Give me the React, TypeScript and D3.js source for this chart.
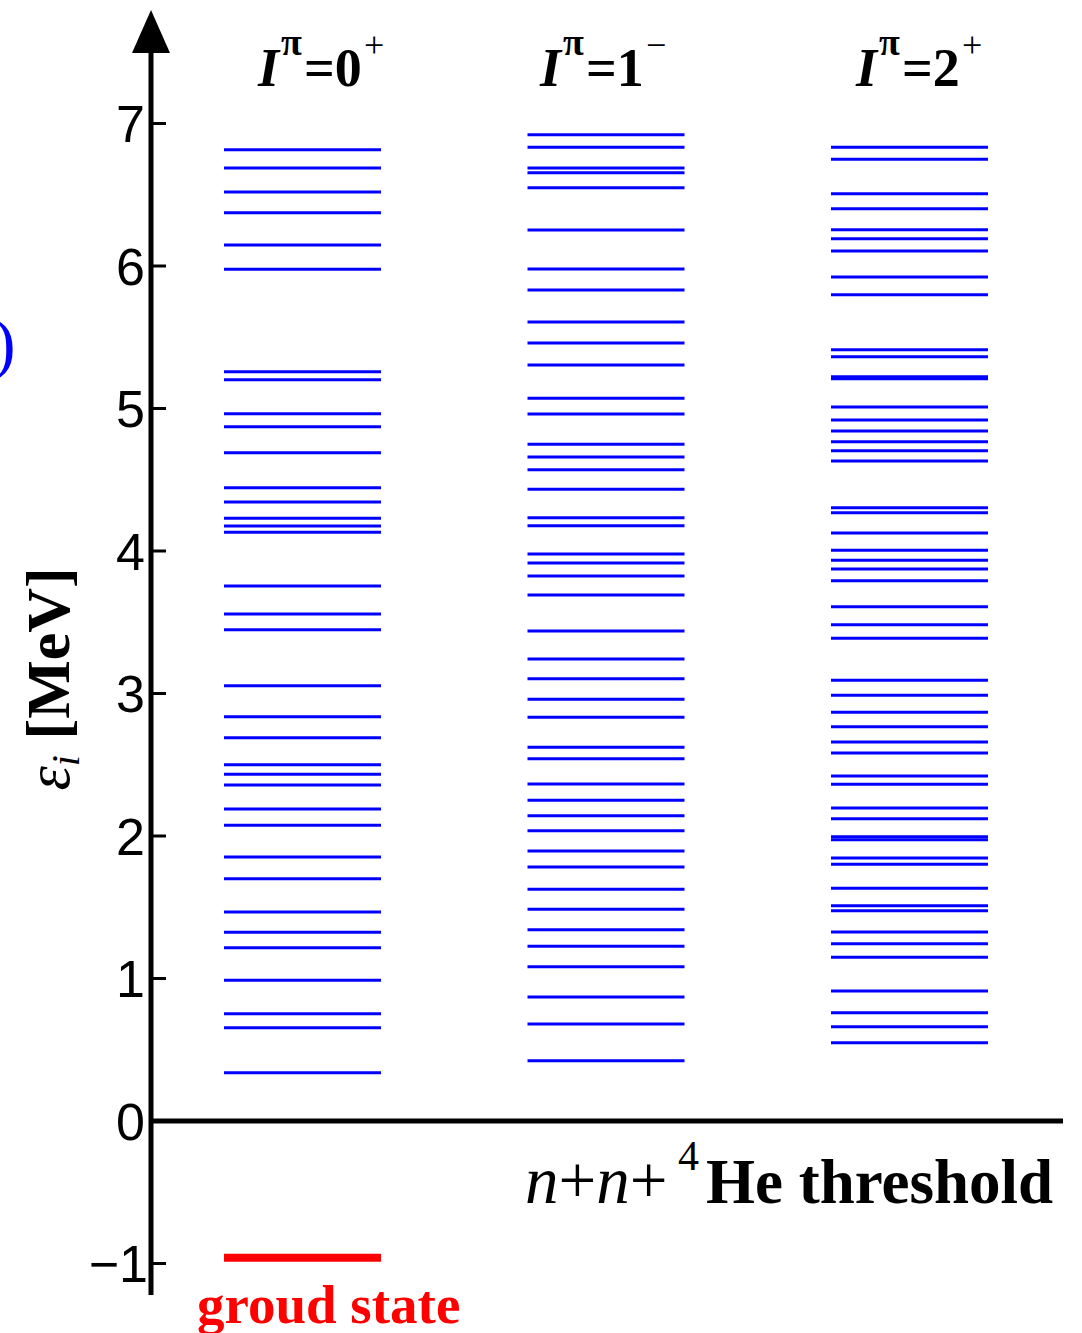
import React from "react";
import * as d3 from "d3";

// Energy levels (MeV) for each I^pi channel
const levels0p: number[] = [
  6.816, 6.688, 6.519, 6.374, 6.147, 5.977, 5.258, 5.202, 4.964, 4.872, 4.69,
  4.444, 4.344, 4.23, 4.175, 4.131, 3.754, 3.558, 3.448, 3.055, 2.837, 2.69,
  2.5, 2.433, 2.358, 2.189, 2.075, 1.853, 1.7, 1.467, 1.324, 1.216, 0.987,
  0.753, 0.655, 0.339,
];
const levels1m: number[] = [
  6.921, 6.833, 6.688, 6.655, 6.549, 6.253, 5.979, 5.832, 5.607, 5.46, 5.305,
  5.072, 4.961, 4.749, 4.66, 4.571, 4.433, 4.234, 4.178, 3.979, 3.916, 3.825,
  3.691, 3.439, 3.242, 3.104, 2.959, 2.833, 2.622, 2.542, 2.365, 2.251, 2.142,
  2.037, 1.895, 1.782, 1.626, 1.486, 1.342, 1.226, 1.083, 0.87, 0.681, 0.423,
];
const levels2p: number[] = [
  6.833, 6.749, 6.507, 6.402, 6.255, 6.192, 6.105, 5.923, 5.799, 5.413, 5.364,
  5.223, 5.209, 5.011, 4.919, 4.842, 4.767, 4.704, 4.632, 4.304, 4.269, 4.126,
  4.005, 3.935, 3.874, 3.792, 3.609, 3.483, 3.387, 3.093, 2.987, 2.868, 2.767,
  2.66, 2.582, 2.421, 2.363, 2.196, 2.121, 1.995, 1.974, 1.846, 1.801, 1.633,
  1.511, 1.476, 1.326, 1.244, 1.149, 0.912, 0.76, 0.662, 0.549,
];
const groundState = -0.96;
const channels = ["0+", "1-", "2+"];
const channelDigits = ["0", "1", "2"];
const channelSigns = ["+", "\u2212", "+"];
const yTicks = [-1, 0, 1, 2, 3, 4, 5, 6, 7];

const allLevels = [levels0p, levels1m, levels2p];

export default function App() {
  const W = 1082;
  const H = 1333;
  const axisX = 151;
  const y = d3.scaleLinear().domain([0, 7]).range([1121, 123.5]);
  const xc = d3.scalePoint<string>().domain(channels).range([302.5, 909.5]);
  const halfW = 78.5;
  const titleStart = [258, 540, 856];

  const serif = "'Liberation Serif', 'Times New Roman', serif";
  const sans = "'Liberation Sans', Arial, sans-serif";

  return (
    <svg width={W} height={H} style={{ display: "block", position: "absolute", left: 0, top: 0 }}>
      <rect width={W} height={H} fill="#fff" />
      {/* stray blue parenthesis */}
      <text x={-7} y={366} fontFamily={serif} fontSize={68} fill="#0000ff">)</text>

      {/* axes */}
      <line x1={axisX} x2={axisX} y1={48} y2={1295} stroke="#000" strokeWidth={5} />
      <polygon points={`${axisX},10 ${axisX - 19},53 ${axisX + 19},53`} fill="#000" />
      <line x1={axisX} x2={1063} y1={y(0)} y2={y(0)} stroke="#000" strokeWidth={5} />
      {yTicks.map((t) => (
        <g key={t}>
          <line x1={axisX} x2={166} y1={y(t)} y2={y(t)} stroke="#000" strokeWidth={3} />
          <text
            x={t < 0 ? 148 : 145}
            y={y(t)}
            dy="0.36em"
            textAnchor="end"
            fontFamily={sans}
            fontSize={52}
            fill="#000"
          >
            {t < 0 ? "\u2212" + Math.abs(t) : t}
          </text>
        </g>
      ))}

      {/* y label */}
      <text
        transform={`translate(69,679) rotate(-90)`}
        textAnchor="middle"
        fontFamily={serif}
        fontSize={62}
        fill="#000"
      >
        <tspan fontStyle="italic" fontWeight="normal">ε</tspan>
        <tspan fontStyle="italic" fontSize={40} dy={10}>i</tspan>
        <tspan dy={-10} fontWeight="bold"> [MeV]</tspan>
      </text>

      {/* levels */}
      {allLevels.map((lv, ci) =>
        lv.map((v, i) => (
          <line
            key={`${ci}-${i}`}
            x1={(xc(channels[ci]) as number) - halfW}
            x2={(xc(channels[ci]) as number) + halfW}
            y1={y(v)}
            y2={y(v)}
            stroke="#0000ff"
            strokeWidth={3}
          />
        ))
      )}

      {/* ground state */}
      <line
        x1={(xc(channels[0]) as number) - halfW}
        x2={(xc(channels[0]) as number) + halfW}
        y1={y(groundState)}
        y2={y(groundState)}
        stroke="#ff0000"
        strokeWidth={8}
      />
      <text x={197} y={1323} fontFamily={serif} fontWeight="bold" fontSize={55} fill="#ff0000">
        groud state
      </text>

      {/* titles */}
      {channels.map((c, ci) => {
        const x0 = titleStart[ci];
        return (
          <text key={c} y={86} fontFamily={serif} fontWeight="bold" fontSize={54} fill="#000">
            <tspan x={x0} fontStyle="italic">I</tspan>
            <tspan x={x0 + 23} y={55} fontSize={38}>π</tspan>
            <tspan x={x0 + 46} y={86}>={channelDigits[ci]}</tspan>
            <tspan x={x0 + 106} y={57} fontSize={36} fontWeight="normal">{channelSigns[ci]}</tspan>
          </text>
        );
      })}

      {/* threshold label */}
      <text y={1203} fontFamily={serif} fontSize={67} fill="#000">
        <tspan x={525} fontStyle="italic">n</tspan>
        <tspan>+</tspan>
        <tspan fontStyle="italic">n</tspan>
        <tspan>+</tspan>
        <tspan x={678} y={1170} fontSize={42}>4</tspan>
        <tspan x={706} y={1203} fontSize={63} fontWeight="bold">He threshold</tspan>
      </text>
    </svg>
  );
}
